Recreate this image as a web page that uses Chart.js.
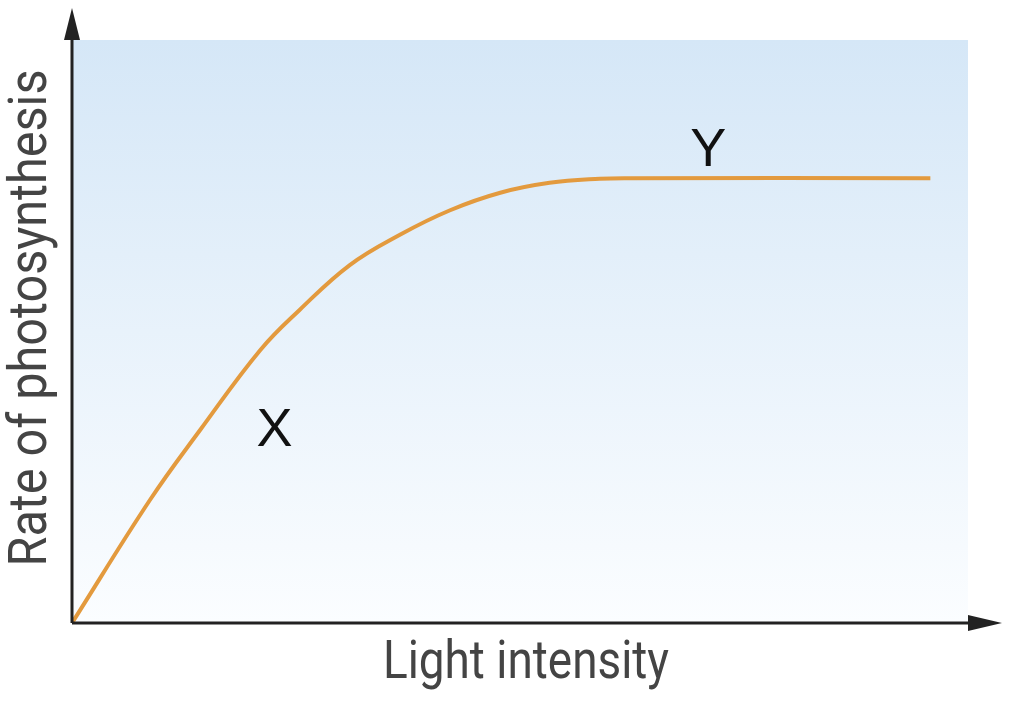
<!DOCTYPE html>
<html>
<head>
<meta charset="utf-8">
<script src="https://cdn.jsdelivr.net/npm/chart.js@4"></script>
<style>
html, body { margin: 0; padding: 0; background: #fff; }
#wrap { width: 1016px; height: 705px; }
</style>
</head>
<body>
<div id="wrap"><canvas id="chart"></canvas></div>
<script>
// light intensity (0-100) vs rate (0-100)
var lightValues = [0, 8.7, 14.3, 21.0, 25.4, 31.0, 36.6, 42.2, 47.8, 53.3, 58.9, 62.3, 95.8];
var rateValues = [0, 21.1, 33.1, 46.8, 53.7, 61.4, 66.6, 70.8, 73.8, 75.5, 76.2, 76.3, 76.3];
var pointLabels = [{ text: "X", x: 22.6, y: 33 }, { text: "Y", x: 71, y: 81 }];
var xTitle = "Light intensity";
var yTitle = "Rate of photosynthesis";

var points = lightValues.map(function (v, i) { return { x: v, y: rateValues[i] }; });

var decor = {
    id: "decor",
    beforeDraw: function (chart) {
        var ctx = chart.ctx, a = chart.chartArea;
        var g = ctx.createLinearGradient(0, a.top, 0, a.bottom);
        g.addColorStop(0, "#d5e7f7");
        g.addColorStop(1, "#fbfdff");
        ctx.fillStyle = g;
        ctx.fillRect(a.left, a.top, a.right - a.left, a.bottom - a.top);
    },
    afterDraw: function (chart) {
        var ctx = chart.ctx, a = chart.chartArea;
        var xs = chart.scales.x, ys = chart.scales.y;
        ctx.save();
        ctx.strokeStyle = "#222";
        ctx.fillStyle = "#222";
        ctx.lineWidth = 3;
        ctx.beginPath();
        ctx.moveTo(a.left, a.bottom);
        ctx.lineTo(a.left, 30);
        ctx.moveTo(a.left, a.bottom);
        ctx.lineTo(985, a.bottom);
        ctx.stroke();
        ctx.beginPath();
        ctx.moveTo(a.left, 8); ctx.lineTo(a.left - 8, 40); ctx.lineTo(a.left + 8, 40); ctx.closePath();
        ctx.fill();
        ctx.beginPath();
        ctx.moveTo(1002, a.bottom); ctx.lineTo(968, a.bottom - 8); ctx.lineTo(968, a.bottom + 8); ctx.closePath();
        ctx.fill();

        ctx.font = "54px 'Liberation Sans', Arial, sans-serif";
        ctx.textAlign = "center";
        ctx.textBaseline = "middle";
        ctx.fillStyle = "#111";
        pointLabels.forEach(function (p) {
            ctx.fillText(p.text, xs.getPixelForValue(p.x), ys.getPixelForValue(p.y));
        });

        ctx.fillStyle = "#444";
        ctx.font = "54px 'Roboto', 'Liberation Sans', sans-serif";
        ctx.save();
        ctx.scale(0.85, 1);
        ctx.fillText(xTitle, 526 / 0.85, 664);
        ctx.restore();
        ctx.translate(32, 318);
        ctx.rotate(-Math.PI / 2);
        ctx.scale(0.9, 1);
        ctx.fillText(yTitle, 0, 0);
        ctx.restore();
    }
};

new Chart(document.getElementById("chart"), {
    type: "line",
    data: {
        datasets: [{
            data: points,
            borderColor: "#e39a3e",
            borderWidth: 4,
            pointRadius: 0,
            tension: 0.4,
            fill: false
        }]
    },
    options: {
        responsive: true,
        maintainAspectRatio: false,
        animation: false,
        layout: { padding: { left: 72, right: 48, top: 40, bottom: 82 } },
        plugins: { legend: { display: false }, tooltip: { enabled: false } },
        scales: {
            x: { type: "linear", min: 0, max: 100, display: false },
            y: { min: 0, max: 100, display: false }
        }
    },
    plugins: [decor]
});
</script>
</body>
</html>
